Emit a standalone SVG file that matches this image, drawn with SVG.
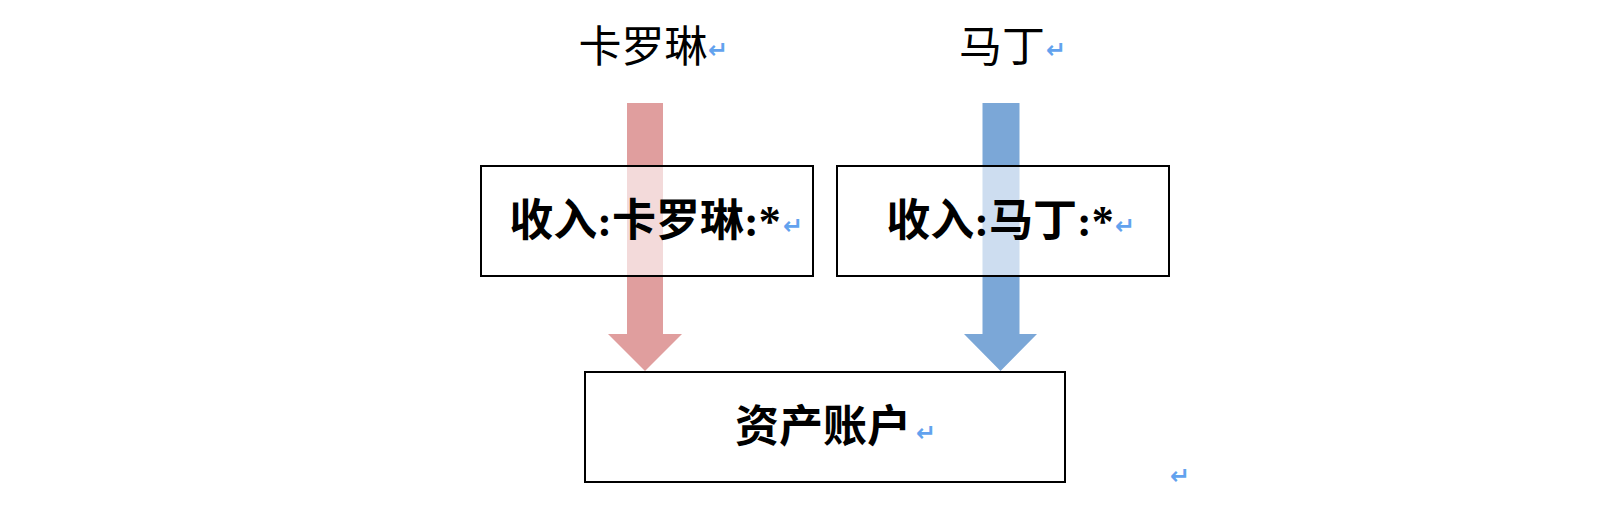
<svg xmlns="http://www.w3.org/2000/svg" width="1618" height="508" viewBox="0 0 1618 508">
<style>
.lbl{font-family:"Liberation Serif","Noto Sans CJK SC",serif;font-size:43px;fill:#000}
.bt{font-family:"Liberation Serif","Noto Sans CJK SC",serif;font-size:44px;font-weight:bold;fill:#000}
.mk{font-family:"DejaVu Sans",sans-serif;font-size:24px;font-weight:bold;fill:#62a2ee}
.box{fill:#fff;fill-opacity:0.62;stroke:#000;stroke-width:2}
</style>
<rect width="1618" height="508" fill="#fff"/>
<g id="connectors">
<polygon id="arrow-carolyn" points="627,103 663,103 663,334 682,334 645,371 608,334 627,334" fill="#e09e9e"/>
<polygon id="arrow-martin" points="982.5,103 1019.5,103 1019.5,334 1037,334 1000.5,371 964,334 982.5,334" fill="#7ba7d7"/>
</g>
<g id="label-carolyn">
<text class="lbl" x="643" y="62" text-anchor="middle">卡罗琳</text>
<text class="mk" x="708" y="58">↵</text>
</g>
<g id="label-martin">
<text class="lbl" x="1002" y="62" text-anchor="middle">马丁</text>
<text class="mk" x="1046" y="58">↵</text>
</g>
<g id="node-income-carolyn">
<rect class="box" x="481" y="166" width="332" height="110"/>
<text class="bt" x="645" y="236" text-anchor="middle">收入:卡罗琳:*</text>
<text class="mk" x="783" y="234">↵</text>
</g>
<g id="node-income-martin">
<rect class="box" x="837" y="166" width="332" height="110"/>
<text class="bt" x="1000" y="236" text-anchor="middle">收入:马丁:*</text>
<text class="mk" x="1115" y="234">↵</text>
</g>
<g id="node-assets">
<rect class="box" x="585" y="372" width="480" height="110" fill-opacity="1"/>
<text class="bt" x="823" y="442" text-anchor="middle">资产账户</text>
<text class="mk" x="916" y="441">↵</text>
</g>
<text class="mk" x="1170" y="484">↵</text>
</svg>
